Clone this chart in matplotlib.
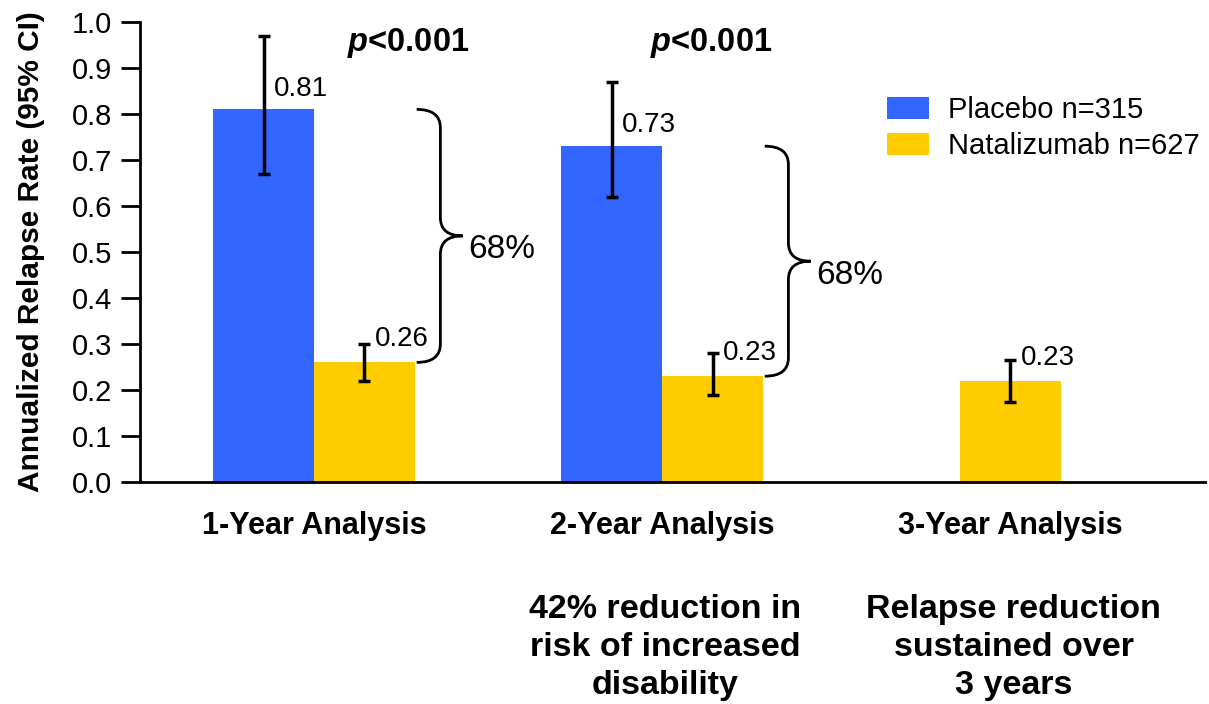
import numpy as np
import matplotlib
matplotlib.use("Agg")
import matplotlib.pyplot as plt
import matplotlib.transforms as mtransforms
from matplotlib.path import Path
from matplotlib.patches import PathPatch

plt.rcParams['font.family'] = ['Liberation Sans', 'DejaVu Sans']
plt.rcParams['mathtext.fontset'] = 'custom'
plt.rcParams['mathtext.it'] = 'Liberation Sans:italic:bold'

# data
groups = ["1-Year Analysis", "2-Year Analysis", "3-Year Analysis"]
placebo = [0.81, 0.73, None]
placebo_lo = [0.67, 0.62, None]
placebo_hi = [0.97, 0.87, None]
natal = [0.26, 0.23, 0.22]
natal_lo = [0.22, 0.19, 0.175]
natal_hi = [0.30, 0.28, 0.265]
placebo_txt = ["0.81", "0.73", None]
natal_txt = ["0.26", "0.23", "0.23"]
reduction_txt = ["68%", "68%", None]
p_txt = ["<0.001", "<0.001", None]
notes = [None, "42% reduction in\nrisk of increased\ndisability",
         "Relapse reduction\nsustained over\n3 years"]

# horizontal offset of the p-value text from each group centre
p_dx = [0.27, 0.14]

blue = "#3366FF"
yellow = "#FFCC00"
w = 0.29

fig = plt.figure(figsize=(12.09, 7.04), dpi=100)
ax = fig.add_axes([0.1158, 0.3153, 0.8809, 0.6535])
note_tr = mtransforms.blended_transform_factory(ax.transData, fig.transFigure)

eb = dict(fmt="none", ecolor="black", elinewidth=2.5, capsize=4.5, capthick=2.5)

x = np.arange(len(groups))
for i in x:
    if placebo[i] is not None:
        xb = i - w / 2
        xn = i + w / 2
        ax.bar(xb, placebo[i], w, color=blue, label="Placebo n=315" if i == 0 else None)
        ax.errorbar(xb, placebo[i],
                    yerr=[[placebo[i] - placebo_lo[i]], [placebo_hi[i] - placebo[i]]], **eb)
        ax.text(xb + 0.03, placebo[i] + 0.045, placebo_txt[i], fontsize=20,
                ha="left", va="center")
    else:
        xn = i
    ax.bar(xn, natal[i], w, color=yellow, label="Natalizumab n=627" if i == 0 else None)
    ax.errorbar(xn, natal[i],
                yerr=[[natal[i] - natal_lo[i]], [natal_hi[i] - natal[i]]], **eb)
    ax.text(xn + 0.03, natal[i] + 0.05, natal_txt[i], fontsize=20,
            ha="left", va="center")

    if reduction_txt[i] is not None:
        # curly brace between the two bar tops
        x0 = xn + w / 2 + 0.005
        x1 = x0 + 0.068
        x2 = x0 + 0.132
        yt, yb = placebo[i], natal[i]
        ym = (yt + yb) / 2
        h = 0.04
        verts = [(x0, yt), (x1, yt), (x1, yt - h),
                 (x1, ym + h), (x1, ym), (x2, ym),
                 (x1, ym), (x1, ym - h),
                 (x1, yb + h), (x1, yb), (x0, yb)]
        codes = [Path.MOVETO, Path.CURVE3, Path.CURVE3,
                 Path.LINETO, Path.CURVE3, Path.CURVE3,
                 Path.CURVE3, Path.CURVE3,
                 Path.LINETO, Path.CURVE3, Path.CURVE3]
        ax.add_patch(PathPatch(Path(verts, codes), fill=False, lw=2, color="black"))
        ax.text(x2 + 0.015, ym - 0.03, reduction_txt[i], fontsize=24,
                ha="left", va="center")
        ax.text(i + p_dx[i], 0.955, r"$p$" + p_txt[i], fontsize=23.5,
                fontweight="bold", ha="center", va="center")

    if notes[i] is not None:
        ax.text(i + 0.01, 0.08, notes[i], transform=note_tr,
                fontsize=24.5, fontweight="bold", ha="center", va="center",
                linespacing=1.3)

ax.set_xlim(-0.5, 2.56)
ax.set_ylim(0, 1.0)
yt_vals = np.arange(0, 1.01, 0.1)
ax.set_yticks(yt_vals)
ax.set_yticklabels([f"{v:.1f}" for v in yt_vals])
ax.set_xticks(x)
ax.set_xticklabels(groups, fontsize=22, fontweight="bold")
ax.tick_params(axis="x", length=0, pad=21)
ax.tick_params(axis="y", length=14, width=2, pad=6, labelsize=21, direction="out")
for s in ["top", "right"]:
    ax.spines[s].set_visible(False)
for s in ["left", "bottom"]:
    ax.spines[s].set_linewidth(2)
ax.set_ylabel("Annualized Relapse Rate (95% CI)", fontsize=21.5, fontweight="bold")
ax.yaxis.set_label_coords(-0.089, 0.5)

ax.legend(loc="upper left", bbox_to_anchor=(887 / 1209, 1 - 96 / 704),
          bbox_transform=fig.transFigure, frameon=False, fontsize=21,
          handlelength=1.44, handleheight=0.79, handletextpad=0.65,
          labelspacing=0.29, borderpad=0, borderaxespad=0)

plt.savefig("out.png", dpi=100)
